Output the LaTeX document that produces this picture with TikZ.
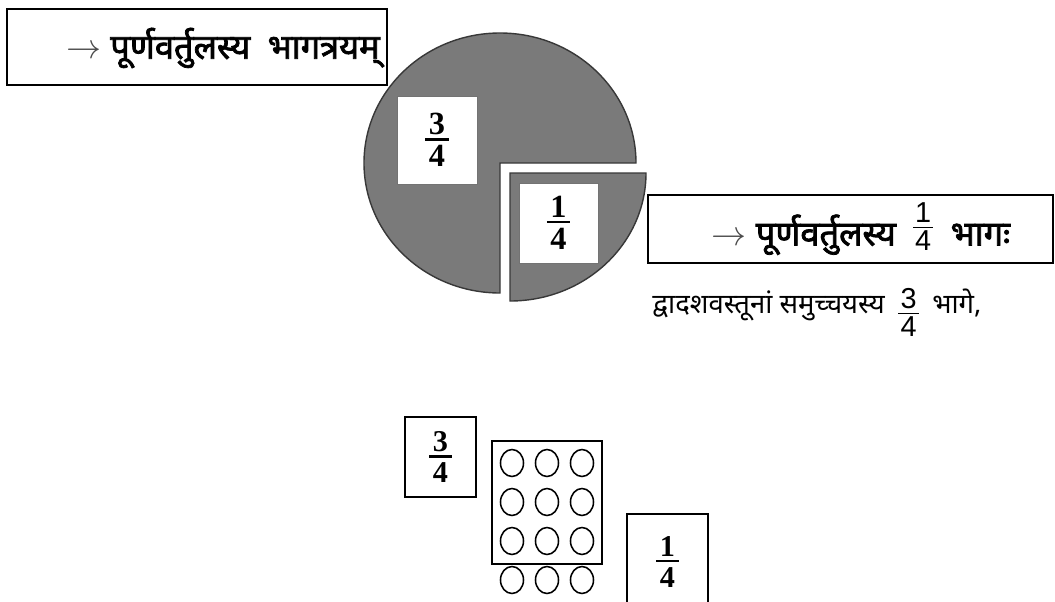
\documentclass[tikz,border=0pt]{standalone}
\usepackage{fontspec}
\usepackage{amsmath}
\setmainfont{Liberation Serif}
\newfontfamily\deva[Script=Devanagari,BoldFont={Noto Sans},BoldFeatures={FakeBold=2.2}]{Noto Sans}
\newfontfamily\fracsans{Liberation Sans}
% bold fraction for the cards, plain fraction for the running text
\newcommand{\bfr}[2]{\vbox{\halign{\hfil\kern2.5pt##\kern2.5pt\hfil\cr
  \bfseries #1\cr\noalign{\kern2.5pt\hrule height1.6pt\kern3.5pt}\bfseries #2\cr}}}
\newcommand{\rfr}[3]{\raisebox{#3}{\fontsize{20.5}{25}\selectfont\fracsans\mdseries
  $\vcenter{\halign{\hfil\kern1.5pt##\kern1.5pt\hfil\cr
  #1\cr\noalign{\kern3pt\hrule height0.7pt\kern2pt}#2\cr}}$}}
\newcommand{\pointer}{\textcolor{black!70}{$\rightarrow$}}

\begin{document}
\begin{tikzpicture}[x=0.025cm,y=0.025cm,
  frame/.style={draw=black,line width=2pt,inner sep=0pt},
  card/.style={draw=black,line width=1.4pt,fill=white,inner sep=0pt},
  slot/.style={draw=black!55,line width=0.6pt,fill=white,inner sep=0pt},
  piece/.style={fill=black!52,draw=black!78,line width=1pt},
  bead/.style={line width=1.1pt},
  devtxt/.style={font=\fontsize{19.5}{24}\selectfont\deva,inner sep=0pt},
  devbold/.style={font=\fontsize{24.5}{29}\selectfont\deva\bfseries,inner sep=0pt},
  fracb/.style={font=\fontsize{23}{27}\selectfont,inner sep=0pt}]
\useasboundingbox (0,0) rectangle (1055,-601);
% ---- top label ----
\node[frame,minimum width=9.5cm,minimum height=1.9cm] (topbox) at (197,-47) {};
\node[devbold,anchor=east] (toptxt) at (380,-48)
  {\pointer\ पूर्णवर्तुलस्य\enspace भागत्रयम्};
% ---- pie : three quarters and the cut-out quarter ----
\draw[piece] (500,-163) -- ++(136,0) arc[start angle=0,end angle=270,x radius=136,y radius=130] -- cycle;
\draw[piece] (510,-173) -- ++(136,0) arc[start angle=0,end angle=-90,x radius=136,y radius=128] -- cycle;
\node[slot,minimum width=2cm,minimum height=2.2cm,fracb] (bigslot) at (437,-140) {\bfr{3}{4}};
\node[slot,minimum width=1.975cm,minimum height=2cm,fracb] (smallslot) at (558.5,-223) {\bfr{1}{4}};
% ---- right label and sentence ----
\node[frame,minimum width=10.125cm,minimum height=1.7cm] (qbox) at (850.5,-229) {};
\node[devbold] (qtxt) at (861,-229)
  {\pointer\ पूर्णवर्तुलस्य\enspace\rfr{1}{4}{8pt}\enspace भागः};
\node[devtxt] (sent) at (817,-312)
  {द्वादशवस्तूनां समुच्चयस्य\enspace\rfr{3}{4}{-4pt}\enspace भागे,};
% ---- twelve things ----
\node[card,minimum width=1.775cm,minimum height=2cm,fracb,font=\fontsize{21.5}{26}\selectfont] (threeq) at (440.5,-457) {\bfr{3}{4}};
\node[card,fill=none,minimum width=2.75cm,minimum height=3.075cm] (grid) at (547,-502.5) {};
\foreach \y in {463,502,541,580}
  \foreach \x in {512,547,582}
    \draw[bead] (\x,-\y) ellipse (11.5 and 13.5);
\node[card,minimum width=2.025cm,minimum height=2.4cm,fracb,font=\fontsize{21.5}{26}\selectfont] (oneq) at (667.5,-562) {\bfr{1}{4}};
\end{tikzpicture}
\end{document}
